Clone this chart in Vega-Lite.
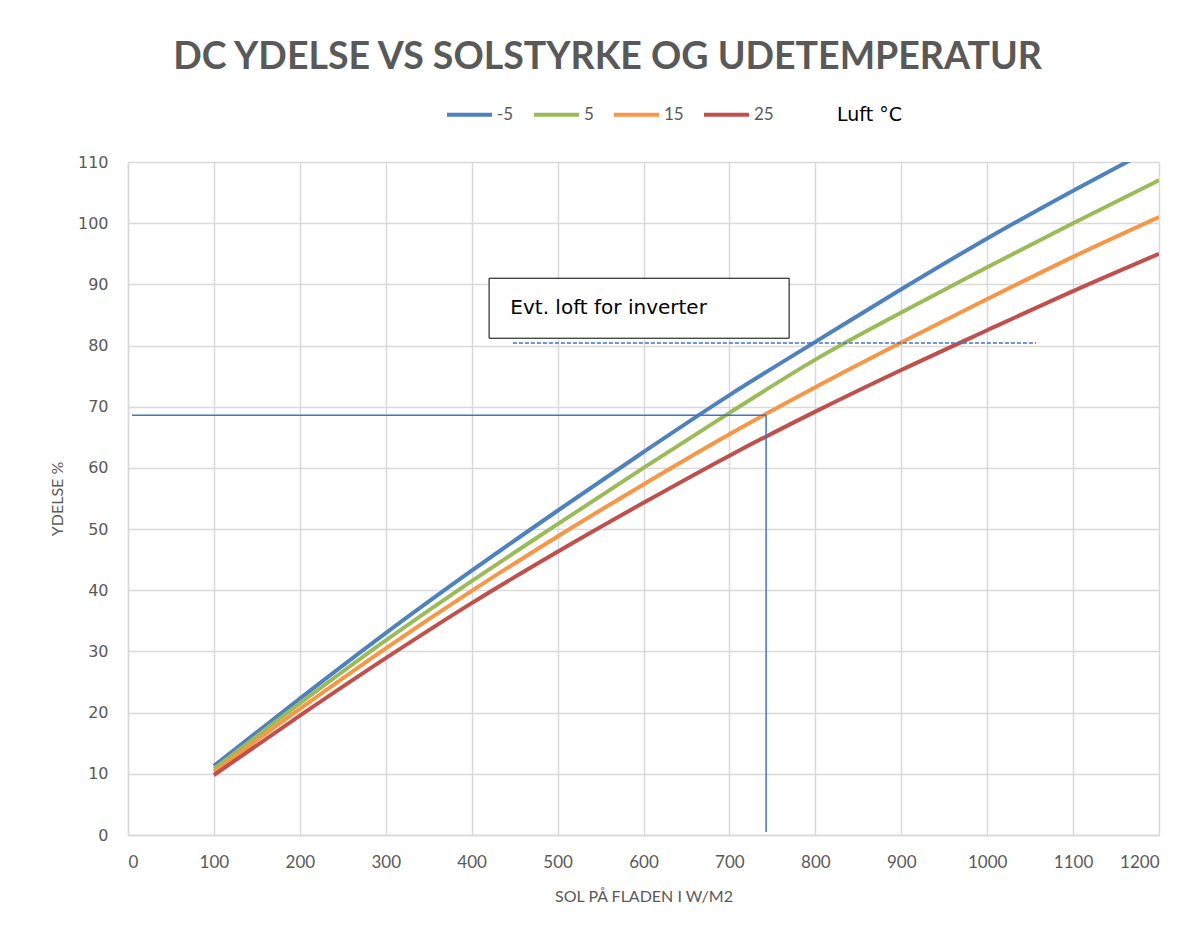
{
  "$schema": "https://vega.github.io/schema/vega-lite/v6.json",
  "width": 1031,
  "height": 673,
  "autosize": {"type": "none"},
  "padding": {"left": 128, "top": 162, "right": 37, "bottom": 101},
  "background": "white",
  "title": {
    "text": "DC YDELSE VS SOLSTYRKE OG UDETEMPERATUR",
    "font": "Lato",
    "fontSize": 37.5,
    "fontWeight": "bold",
    "color": "#595959",
    "anchor": "middle",
    "frame": "group",
    "dx": -36,
    "offset": 14
  },
  "config": {
    "view": {"stroke": null},
    "axis": {
      "gridColor": "#d9d9d9",
      "gridWidth": 1.5,
      "domainColor": "#d9d9d9",
      "domainWidth": 1.5,
      "ticks": false,
      "labelColor": "#595959",
      "titleColor": "#595959",
      "titleFontWeight": "normal"
    }
  },
  "datasets": {
    "curves": [
      {"sol": 100, "ydelse": 11.3, "temp": "-5"},
      {"sol": 200, "ydelse": 22.3, "temp": "-5"},
      {"sol": 300, "ydelse": 33.0, "temp": "-5"},
      {"sol": 400, "ydelse": 43.2, "temp": "-5"},
      {"sol": 500, "ydelse": 53.0, "temp": "-5"},
      {"sol": 600, "ydelse": 62.6, "temp": "-5"},
      {"sol": 700, "ydelse": 71.9, "temp": "-5"},
      {"sol": 800, "ydelse": 80.6, "temp": "-5"},
      {"sol": 900, "ydelse": 89.2, "temp": "-5"},
      {"sol": 1000, "ydelse": 97.5, "temp": "-5"},
      {"sol": 1100, "ydelse": 105.3, "temp": "-5"},
      {"sol": 1200, "ydelse": 112.8, "temp": "-5"},
      {"sol": 100, "ydelse": 10.8, "temp": "5"},
      {"sol": 200, "ydelse": 21.5, "temp": "5"},
      {"sol": 300, "ydelse": 31.8, "temp": "5"},
      {"sol": 400, "ydelse": 41.5, "temp": "5"},
      {"sol": 500, "ydelse": 50.8, "temp": "5"},
      {"sol": 600, "ydelse": 60.0, "temp": "5"},
      {"sol": 700, "ydelse": 69.0, "temp": "5"},
      {"sol": 800, "ydelse": 77.7, "temp": "5"},
      {"sol": 900, "ydelse": 85.4, "temp": "5"},
      {"sol": 1000, "ydelse": 92.8, "temp": "5"},
      {"sol": 1100, "ydelse": 100.0, "temp": "5"},
      {"sol": 1200, "ydelse": 107.0, "temp": "5"},
      {"sol": 100, "ydelse": 10.3, "temp": "15"},
      {"sol": 200, "ydelse": 20.6, "temp": "15"},
      {"sol": 300, "ydelse": 30.5, "temp": "15"},
      {"sol": 400, "ydelse": 39.9, "temp": "15"},
      {"sol": 500, "ydelse": 48.8, "temp": "15"},
      {"sol": 600, "ydelse": 57.3, "temp": "15"},
      {"sol": 700, "ydelse": 65.5, "temp": "15"},
      {"sol": 800, "ydelse": 73.2, "temp": "15"},
      {"sol": 900, "ydelse": 80.5, "temp": "15"},
      {"sol": 1000, "ydelse": 87.6, "temp": "15"},
      {"sol": 1100, "ydelse": 94.5, "temp": "15"},
      {"sol": 1200, "ydelse": 101.0, "temp": "15"},
      {"sol": 100, "ydelse": 9.8, "temp": "25"},
      {"sol": 200, "ydelse": 19.5, "temp": "25"},
      {"sol": 300, "ydelse": 28.9, "temp": "25"},
      {"sol": 400, "ydelse": 37.9, "temp": "25"},
      {"sol": 500, "ydelse": 46.3, "temp": "25"},
      {"sol": 600, "ydelse": 54.3, "temp": "25"},
      {"sol": 700, "ydelse": 62.0, "temp": "25"},
      {"sol": 800, "ydelse": 69.2, "temp": "25"},
      {"sol": 900, "ydelse": 76.0, "temp": "25"},
      {"sol": 1000, "ydelse": 82.5, "temp": "25"},
      {"sol": 1100, "ydelse": 88.9, "temp": "25"},
      {"sol": 1200, "ydelse": 95.0, "temp": "25"}
    ],
    "hline": [{"sol": 4.7, "sol2": 742.7, "ydelse": 68.6}],
    "vline": [{"sol": 742.7, "ydelse": 0.5, "ydelse2": 68.6}],
    "loft": [{"sol": 448, "sol2": 1057, "ydelse": 80.4}],
    "box": [{"sol": 420.3, "sol2": 769.5, "ydelse": 81.2, "ydelse2": 91.0}],
    "boxtext": [{"sol": 445, "ydelse": 86.2, "label": "Evt. loft for inverter"}]
  },
  "layer": [
    {
      "data": {"name": "curves"},
      "mark": {"type": "line", "strokeWidth": 4, "interpolate": "monotone", "clip": true},
      "encoding": {
        "x": {
          "field": "sol",
          "type": "quantitative",
          "scale": {"domain": [0, 1200], "nice": false},
          "axis": {
            "values": [0, 100, 200, 300, 400, 500, 600, 700, 800, 900, 1000, 1100, 1200],
            "title": "SOL PÅ FLADEN I W/M2",
            "titleFont": "Lato",
            "titleFontSize": 16,
            "titlePadding": 18,
            "labelFont": "Lato",
            "labelFontSize": 17,
            "labelPadding": 19,
            "format": "d"
          }
        },
        "y": {
          "field": "ydelse",
          "type": "quantitative",
          "scale": {"domain": [0, 110], "nice": false},
          "axis": {
            "values": [0, 10, 20, 30, 40, 50, 60, 70, 80, 90, 100, 110],
            "title": "YDELSE %",
            "titleFont": "Lato",
            "titleFontSize": 16,
            "titlePadding": 12,
            "labelFont": "DejaVu Sans",
            "labelFontSize": 16,
            "labelPadding": 20,
            "format": "d"
          }
        },
        "color": {
          "field": "temp",
          "type": "nominal",
          "scale": {
            "domain": ["-5", "5", "15", "25"],
            "range": ["#4F81BD", "#9BBB59", "#F79646", "#C0504D"]
          },
          "legend": {
            "title": "Luft °C",
            "orient": "none",
            "legendX": 317,
            "legendY": -72,
            "direction": "horizontal",
            "titleOrient": "right",
            "titleAnchor": "middle",
            "titleFont": "DejaVu Sans",
            "titleFontSize": 19,
            "titleFontWeight": "normal",
            "titleColor": "#000000",
            "titlePadding": 63,
            "titleBaseline": "top",
            "labelFont": "Lato",
            "labelFontSize": 17,
            "labelColor": "#595959",
            "labelOffset": 3,
            "symbolType": "stroke",
            "symbolSize": 2025,
            "symbolStrokeWidth": 4,
            "columnPadding": 12
          }
        }
      }
    },
    {
      "data": {"name": "hline"},
      "mark": {"type": "rule", "color": "#4472C4", "strokeWidth": 1.5},
      "encoding": {
        "x": {"field": "sol", "type": "quantitative"},
        "x2": {"field": "sol2"},
        "y": {"field": "ydelse", "type": "quantitative"}
      }
    },
    {
      "data": {"name": "vline"},
      "mark": {"type": "rule", "color": "#4472C4", "strokeWidth": 1.5},
      "encoding": {
        "x": {"field": "sol", "type": "quantitative"},
        "y": {"field": "ydelse", "type": "quantitative"},
        "y2": {"field": "ydelse2"}
      }
    },
    {
      "data": {"name": "loft"},
      "mark": {"type": "rule", "color": "#4472C4", "strokeWidth": 1.5, "strokeDash": [4, 2]},
      "encoding": {
        "x": {"field": "sol", "type": "quantitative"},
        "x2": {"field": "sol2"},
        "y": {"field": "ydelse", "type": "quantitative"}
      }
    },
    {
      "data": {"name": "box"},
      "mark": {"type": "rect", "fill": "white", "stroke": "#000000", "strokeWidth": 1},
      "encoding": {
        "x": {"field": "sol", "type": "quantitative"},
        "x2": {"field": "sol2"},
        "y": {"field": "ydelse", "type": "quantitative"},
        "y2": {"field": "ydelse2"}
      }
    },
    {
      "data": {"name": "boxtext"},
      "mark": {"type": "text", "font": "DejaVu Sans", "fontSize": 20, "color": "#000000", "align": "left", "baseline": "middle"},
      "encoding": {
        "x": {"field": "sol", "type": "quantitative"},
        "y": {"field": "ydelse", "type": "quantitative"},
        "text": {"field": "label"}
      }
    }
  ]
}
